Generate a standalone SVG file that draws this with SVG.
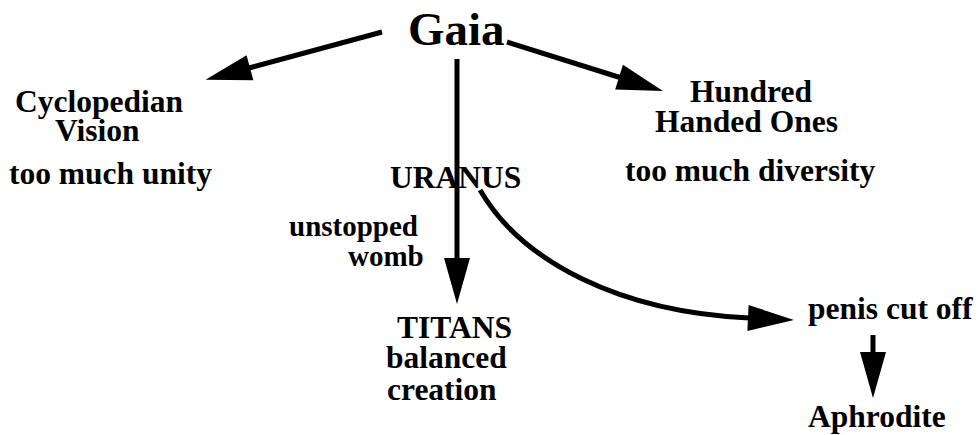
<svg xmlns="http://www.w3.org/2000/svg" width="980" height="435" viewBox="0 0 980 435">
<style>
text{font-family:"Liberation Serif","Times New Roman",serif;font-weight:bold;fill:#000;font-size:31.5px}
.big{font-size:47px}
.sm{font-size:29px}
.c{fill:none;stroke:#000;stroke-width:5}
</style>
<defs>
<marker id="ah" markerUnits="userSpaceOnUse" markerWidth="46" markerHeight="26" refX="1" refY="13" orient="auto" overflow="visible">
<path d="M0,0 L46,13 L0,26 z" fill="#000"/>
</marker>
</defs>
<rect width="980" height="435" fill="#fff"/>
<g id="connectors">
<path class="c" d="M382,32 L249,68" marker-end="url(#ah)"/>
<path class="c" d="M507,42 L620,77.5" marker-end="url(#ah)"/>
<path class="c" d="M457,59 L457,259" marker-end="url(#ah)"/>
<path class="c" d="M480,190 C522,262 620,312 749,318" marker-end="url(#ah)"/>
<path class="c" d="M873,335 L873,353" marker-end="url(#ah)"/>
</g>
<g id="gaia"><text class="big" x="408" y="45">Gaia</text></g>
<g id="cyclopedian"><text x="15" y="112">Cyclopedian</text><text x="55" y="141">Vision</text></g>
<g id="unity"><text x="9" y="184">too much unity</text></g>
<g id="hundred"><text x="690" y="102">Hundred</text><text x="655" y="132">Handed Ones</text></g>
<g id="diversity"><text x="625" y="181">too much diversity</text></g>
<g id="uranus"><text x="390" y="188">URANUS</text></g>
<g id="womb"><text class="sm" x="289" y="236">unstopped</text><text class="sm" x="348" y="266">womb</text></g>
<g id="titans"><text x="397" y="338">TITANS</text><text x="386" y="368">balanced</text><text x="387" y="400">creation</text></g>
<g id="penis"><text x="808" y="319">penis cut off</text></g>
<g id="aphrodite"><text x="808" y="427">Aphrodite</text></g>
</svg>
